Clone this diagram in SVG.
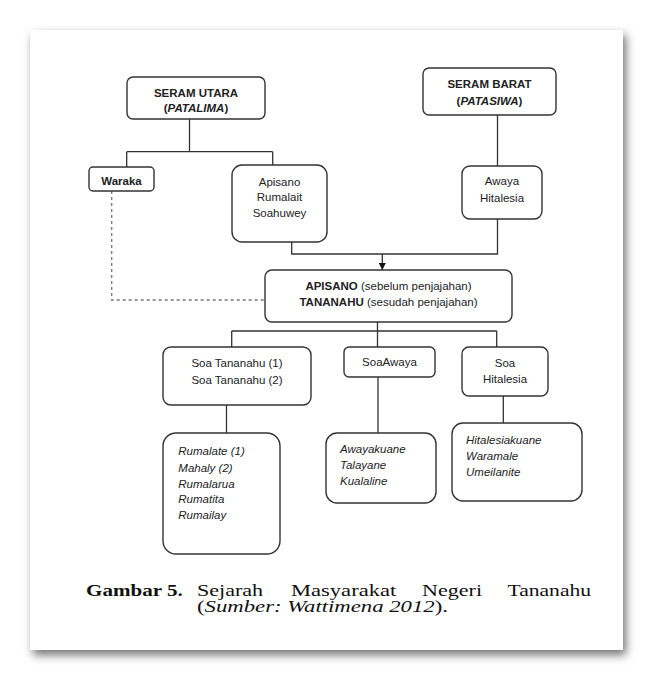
<svg xmlns="http://www.w3.org/2000/svg" width="654" height="681" viewBox="0 0 654 681">
<defs>
<filter id="shadow" x="-10%" y="-10%" width="120%" height="120%">
<feDropShadow dx="3" dy="5" stdDeviation="5" flood-color="#000" flood-opacity="0.55"/>
</filter>
<marker id="arrow" viewBox="0 0 10 10" refX="10" refY="5" markerWidth="7" markerHeight="7" markerUnits="userSpaceOnUse" orient="auto">
<path d="M0,0 L10,5 L0,10 z" fill="#111"/>
</marker>
<style>
.box{fill:#fff;stroke:#333;stroke-width:1.4}
.ln{fill:none;stroke:#333;stroke-width:1.3}
.dash{fill:none;stroke:#777;stroke-width:1.3;stroke-dasharray:3,3}
.t{font-family:"Liberation Sans",Arial,sans-serif;font-size:11.5px;fill:#222;text-anchor:middle}
.b{font-weight:bold}
.i{font-style:italic}
.l{font-family:"Liberation Sans",Arial,sans-serif;font-size:11.5px;fill:#222;font-style:italic}
.cap{font-family:"Liberation Serif","Times New Roman",serif;font-size:16.6px;fill:#111}
</style>
</defs>
<rect x="0" y="0" width="654" height="681" fill="#fff"/>
<rect x="30" y="30" width="593" height="620" fill="#fff" filter="url(#shadow)"/>

<g id="connectors">
<path class="ln" d="M189.5,119 V151.7 M126.7,151.7 H272.7 M126.7,151.7 V167 M272.7,151.7 V165"/>
<path class="ln" d="M497.5,115 V166"/>
<path class="ln" d="M291.7,242 V254 H497.5 V219"/>
<path class="ln" d="M382.3,254 V270" marker-end="url(#arrow)"/>
<path class="dash" d="M111.7,191 V300 H265"/>
<path class="ln" d="M377.5,322 V331 M231.7,331 H496.7 M231.7,331 V347 M377.5,331 V347 M496.7,331 V347"/>
<path class="ln" d="M226.5,405 V433 M378,377 V433 M503.3,396 V423"/>
</g>

<g id="seram-utara">
<rect class="box" x="127" y="77" width="138" height="42" rx="6"/>
<text class="t b" x="196" y="97">SERAM UTARA</text>
<text class="t b" x="196" y="112">(<tspan class="i">PATALIMA</tspan>)</text>
</g>
<g id="seram-barat">
<rect class="box" x="423" y="68" width="133" height="47" rx="6"/>
<text class="t b" x="489.5" y="88">SERAM BARAT</text>
<text class="t b" x="489.5" y="105">(<tspan class="i">PATASIWA</tspan>)</text>
</g>
<g id="waraka">
<rect class="box" x="89" y="167" width="65" height="24" rx="4"/>
<text class="t b" x="121.5" y="185">Waraka</text>
</g>
<g id="apisano">
<rect class="box" x="232" y="165" width="95" height="77" rx="10"/>
<text class="t" x="279.5" y="186">Apisano</text>
<text class="t" x="279.5" y="201">Rumalait</text>
<text class="t" x="279.5" y="217">Soahuwey</text>
</g>
<g id="awaya">
<rect class="box" x="462" y="166" width="80" height="53" rx="8"/>
<text class="t" x="502" y="185">Awaya</text>
<text class="t" x="502" y="201.5">Hitalesia</text>
</g>
<g id="main">
<rect class="box" x="265" y="270" width="247" height="52" rx="7"/>
<text class="t" x="388.5" y="290"><tspan class="b">APISANO</tspan> (sebelum penjajahan)</text>
<text class="t" x="388.5" y="306"><tspan class="b">TANANAHU</tspan> (sesudah penjajahan)</text>
</g>
<g id="soa-tananahu">
<rect class="box" x="163" y="347" width="148" height="58" rx="8"/>
<text class="t" x="237" y="367">Soa Tananahu (1)</text>
<text class="t" x="237" y="384">Soa Tananahu (2)</text>
</g>
<g id="soa-awaya">
<rect class="box" x="344" y="347" width="91" height="30" rx="5"/>
<text class="t" x="389.5" y="366">SoaAwaya</text>
</g>
<g id="soa-hitalesia">
<rect class="box" x="462" y="347" width="86" height="49" rx="7"/>
<text class="t" x="505" y="366.5">Soa</text>
<text class="t" x="505" y="382.5">Hitalesia</text>
</g>
<g id="tananahu-list">
<rect class="box" x="163" y="433" width="117" height="121" rx="13"/>
<text class="l" x="178.3" y="455">Rumalate (1)</text>
<text class="l" x="178.3" y="471.5">Mahaly (2)</text>
<text class="l" x="178.3" y="487.5">Rumalarua</text>
<text class="l" x="178.3" y="503">Rumatita</text>
<text class="l" x="178.3" y="519">Rumailay</text>
</g>
<g id="awaya-list">
<rect class="box" x="326" y="433" width="110" height="70" rx="11"/>
<text class="l" x="340" y="453.3">Awayakuane</text>
<text class="l" x="340" y="469.3">Talayane</text>
<text class="l" x="340" y="485">Kualaline</text>
</g>
<g id="hitalesia-list">
<rect class="box" x="452" y="423" width="130" height="78" rx="11"/>
<text class="l" x="466" y="444">Hitalesiakuane</text>
<text class="l" x="466" y="460">Waramale</text>
<text class="l" x="466" y="476">Umeilanite</text>
</g>

<g id="caption">
<text class="cap" transform="translate(86,596) scale(1.27,1)" font-weight="bold">Gambar 5.</text>
<text class="cap" transform="translate(197,596) scale(1.33,1)">Sejarah</text>
<text class="cap" transform="translate(291,596) scale(1.36,1)">Masyarakat</text>
<text class="cap" transform="translate(422,596) scale(1.33,1)">Negeri</text>
<text class="cap" transform="translate(507.5,596) scale(1.3,1)">Tananahu</text>
<text class="cap" transform="translate(197,612) scale(1.37,1)">(<tspan font-style="italic">Sumber: Wattimena 2012</tspan>).</text>
</g>
</svg>
